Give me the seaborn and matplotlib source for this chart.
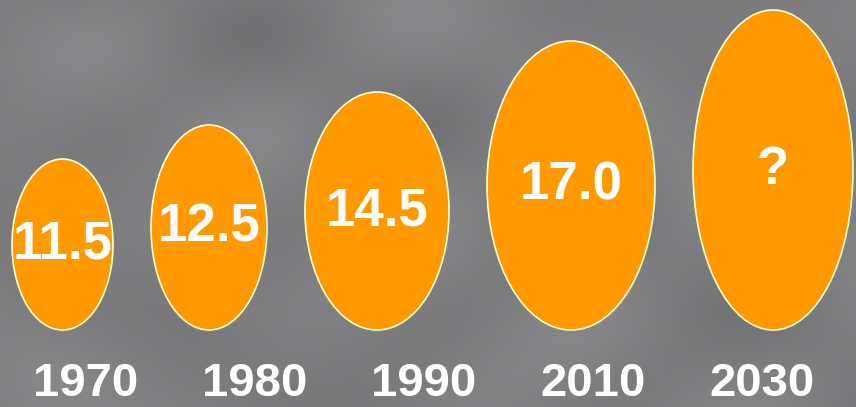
import numpy as np
import matplotlib
matplotlib.use('Agg')
import matplotlib.pyplot as plt
from matplotlib.patches import Ellipse
import seaborn as sns

# data
years = ['1970', '1980', '1990', '2010', '2030']
value_labels = ['11.5', '12.5', '14.5', '17.0', '?']
ellipse_w = [101, 116, 144, 168, 160]
ellipse_h = [171, 205, 238, 289, 320]

sns.set_style('white')
plt.rcParams['font.family'] = ['Liberation Sans', 'DejaVu Sans']

fig = plt.figure(figsize=(8.56, 4.07), dpi=100)
ax = fig.add_axes([0, 0, 1, 1])
ax.set_xlim(0, 856)
ax.set_ylim(0, 407)
ax.axis('off')

# cloudy grey background (smooth pattern)
gx, gy = np.meshgrid(np.linspace(0, 856, 300), np.linspace(0, 407, 150))
f = (0.5 + 0.22 * np.sin(gx / 55.0) * np.cos(gy / 30.0)
     + 0.18 * np.sin((gx + 1.7 * gy) / 80.0)
     + 0.12 * np.cos((gx - gy) / 40.0))
f = (f - f.min()) / (f.max() - f.min())
lvl = 0.45 + 0.08 * f
bg = np.dstack([lvl, lvl, lvl + 0.012])
ax.imshow(bg, extent=[0, 856, 0, 407], origin='lower', aspect='auto',
          interpolation='bicubic', zorder=0)

# ellipses laid out side by side on a common baseline
base = 77
gap = 38
left = 12
for i in range(len(years)):
    w, h = ellipse_w[i], ellipse_h[i]
    cx = left + w / 2
    cy = base + h / 2
    ax.add_patch(Ellipse((cx, cy), w, h, facecolor='#ff9900',
                         edgecolor='#ffffcc', linewidth=1.2, zorder=2))
    ax.text(cx, cy, value_labels[i], color='white', fontsize=38,
            fontweight='bold', ha='center', va='center', zorder=3)
    left += w + gap

# year labels in an evenly spaced row
label_x = np.linspace(86, 762, len(years))
for x, yr in zip(label_x, years):
    ax.text(x, 1, yr, color='white', fontsize=34, fontweight='bold',
            ha='center', va='bottom', zorder=3)

fig.savefig('out.png', dpi=100)
